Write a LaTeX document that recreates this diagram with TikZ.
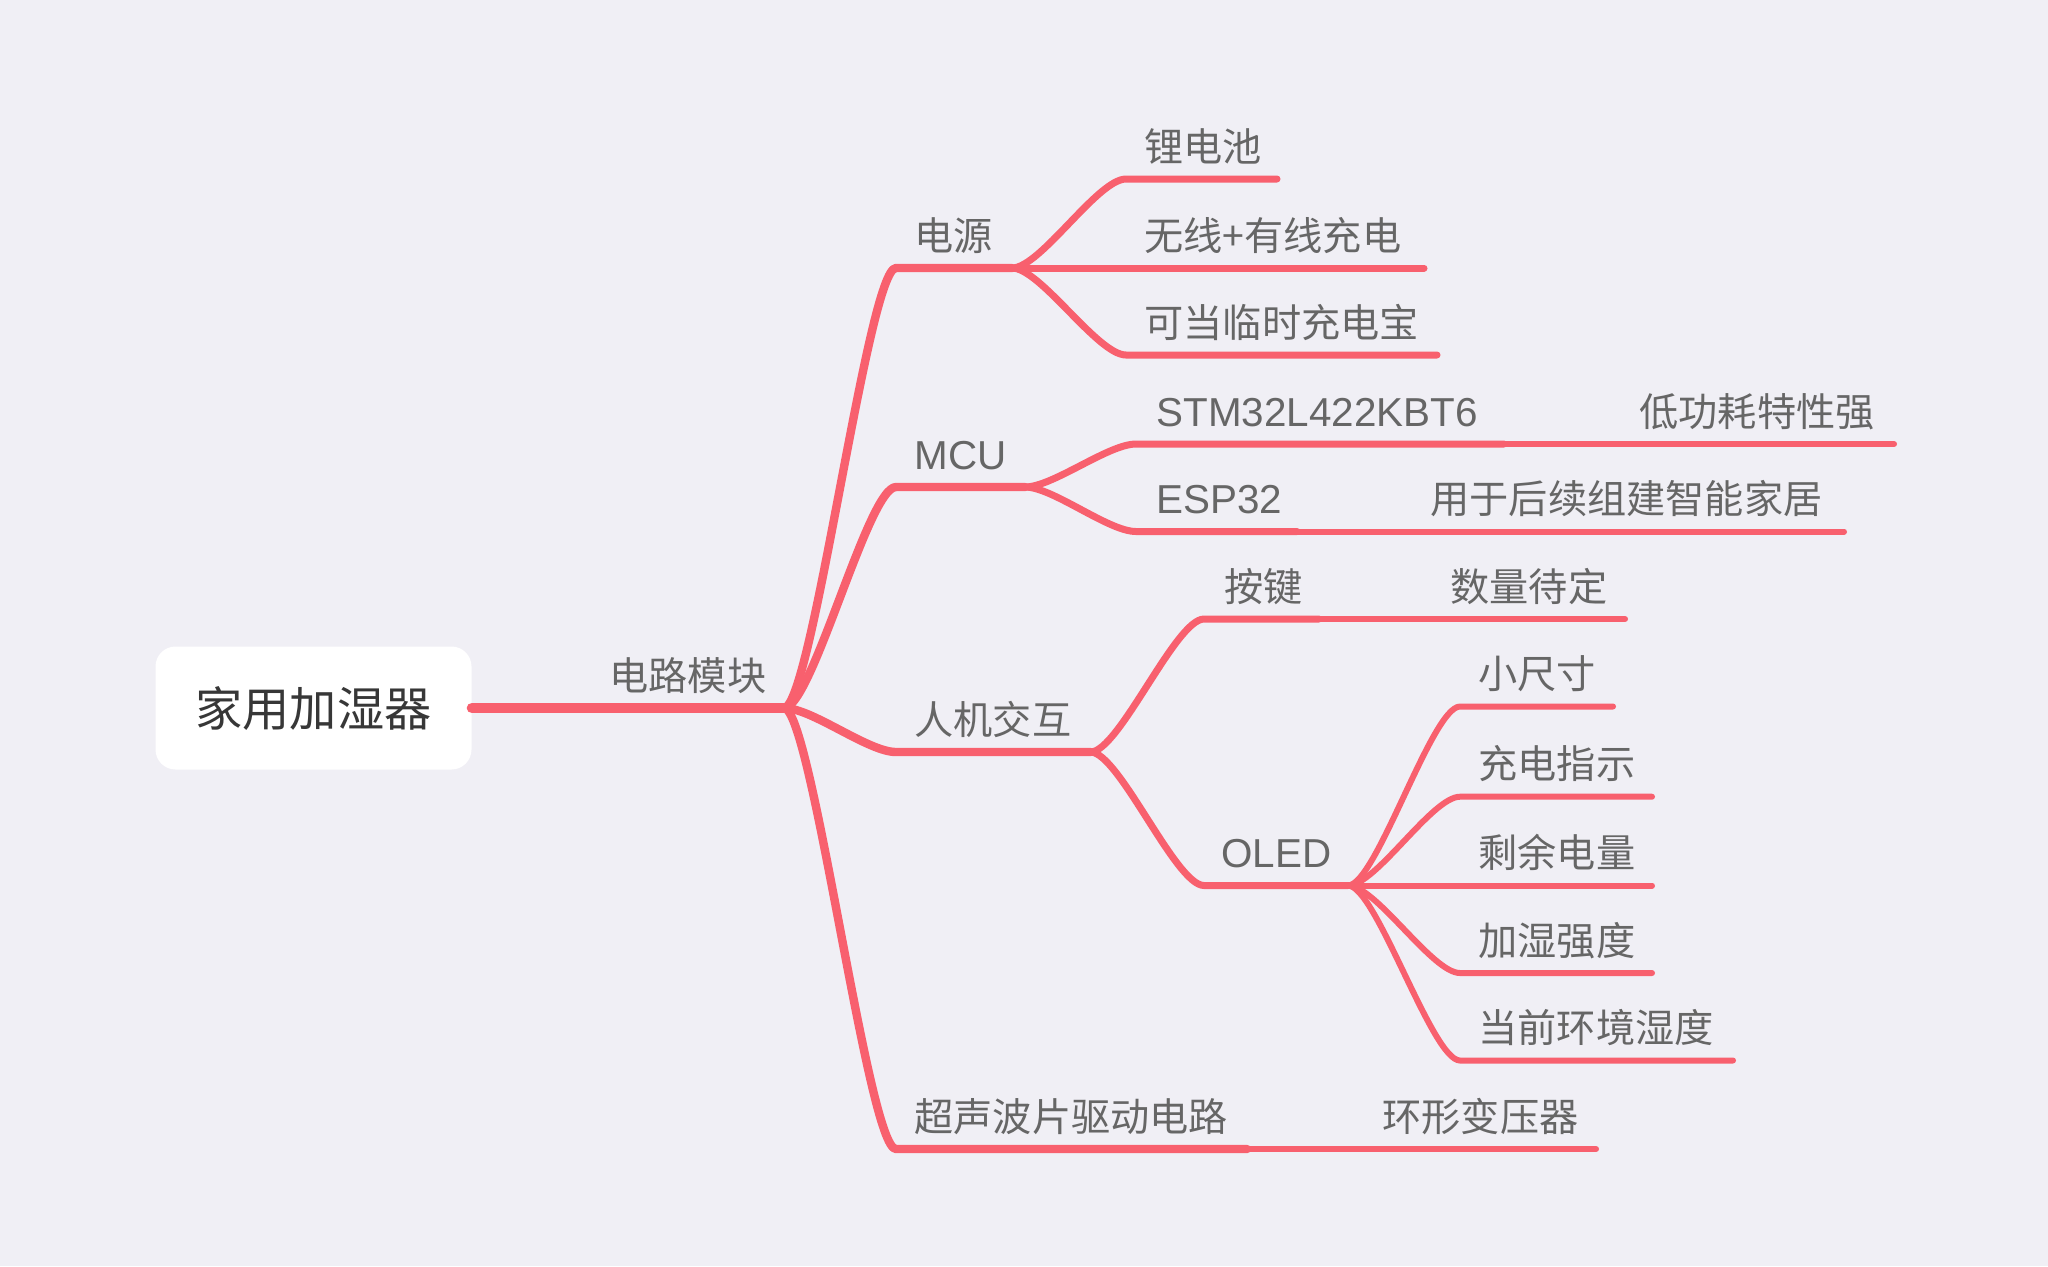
\documentclass[tikz,border=0pt]{standalone}
\usepackage{fontspec}
\setmainfont{Noto Sans CJK SC}
\newfontfamily\latinfont{Liberation Sans}
\usetikzlibrary{calc}
\definecolor{bgc}{RGB}{240,239,245}
\definecolor{linec}{RGB}{248,96,110}
\definecolor{txtc}{RGB}{102,102,102}
\definecolor{roottxt}{RGB}{55,55,55}
\begin{document}
\begin{tikzpicture}[x=0.5pt,y=-0.5pt,
  lab/.style={anchor=base west, inner sep=0pt, text=txtc, font=\fontsize{19.6}{20}\selectfont},
  latlab/.style={lab, font=\fontsize{20.2}{20}\latinfont},
  rootbox/.style={fill=white, rounded corners=10pt, minimum width=158pt, minimum height=61.5pt, inner sep=0pt, text=roottxt, font=\fontsize{23.6}{24}\selectfont},
  lw1/.style={draw=linec, line width=5.2pt, line cap=round, line join=round},
  lw2/.style={draw=linec, line width=4.2pt, line cap=round, line join=round},
  lw3/.style={draw=linec, line width=3.5pt, line cap=round, line join=round},
  lw4/.style={draw=linec, line width=3pt, line cap=round, line join=round},
  curvy/.style={to path={let \p1=(\tikztostart), \p2=(\tikztotarget) in
      .. controls ({\x1+0.25*(\x2-\x1)},{\y1}) and ({\x2-0.25*(\x2-\x1)},{\y2}) .. (\tikztotarget)}}
]
\fill[bgc] (0,0) rectangle (2048,1266);
\useasboundingbox (0,0) rectangle (2048,1266);

% root
\node[rootbox] (root) at (313.5,708) {家用加湿器};
\coordinate (hub) at (784,708);
\node[lab] (dlmk) at (609,690) {电路模块};
\draw[lw1] (root.east) -- (hub);

% level 2 coordinates
\coordinate (dy-s) at (896,268);   \coordinate (dy-e) at (1012,268);
\coordinate (mcu-s) at (896,487);  \coordinate (mcu-e) at (1025,487);
\coordinate (rj-s) at (896,752);   \coordinate (rj-e) at (1090.5,752);
\coordinate (cs-s) at (896,1149);  \coordinate (cs-e) at (1247,1149);

\draw[lw2] (hub) to[curvy] (dy-s) -- (dy-e);
\draw[lw2] (hub) to[curvy] (mcu-s) -- (mcu-e);
\draw[lw2] (hub) to[curvy] (rj-s) -- (rj-e);
\draw[lw2] (hub) to[curvy] (cs-s) -- (cs-e);

\node[lab] (dy) at (914,250) {电源};
\node[latlab] (mcu) at (914,469) {MCU};
\node[lab] (rj) at (914,734) {人机交互};
\node[lab] (cs) at (914,1131) {超声波片驱动电路};

% 电源 children
\coordinate (ldc-s) at (1126,179);  \coordinate (ldc-e) at (1277,179);
\coordinate (wx-s) at (1126,268);   \coordinate (wx-e) at (1424,268);
\coordinate (kd-s) at (1126,355);   \coordinate (kd-e) at (1437,355);
\draw[lw3] (dy-e) to[curvy] (ldc-s) -- (ldc-e);
\draw[lw3] (dy-e) -- (wx-s) -- (wx-e);
\draw[lw3] (dy-e) to[curvy] (kd-s) -- (kd-e);
\node[lab] (ldc) at (1144,161) {锂电池};
\node[lab] (wx) at (1144,250) {无线+有线充电};
\node[lab] (kd) at (1144,337) {可当临时充电宝};

% MCU children
\coordinate (stm-s) at (1136,444);  \coordinate (stm-e) at (1504,444);
\coordinate (dgh-e) at (1894,444);
\coordinate (esp-s) at (1136,531.5); \coordinate (esp-e) at (1297,531.5);
\coordinate (yy-e) at (1844,531.5);
\draw[lw3] (mcu-e) to[curvy] (stm-s) -- (stm-e);
\draw[lw3] (mcu-e) to[curvy] (esp-s) -- (esp-e);
\draw[lw4] (stm-e) -- (dgh-e);
\draw[lw4] (esp-e) -- (yy-e);
\node[latlab] (stm) at (1156,426) {STM32L422KBT6};
\node[lab] (dgh) at (1639,426) {低功耗特性强};
\node[latlab] (esp) at (1156,513.5) {ESP32};
\node[lab] (yy) at (1430,513.5) {用于后续组建智能家居};

% 人机交互 children
\coordinate (aj-s) at (1204,619);   \coordinate (aj-e) at (1319,619);
\coordinate (sl-e) at (1625,619);
\coordinate (oled-s) at (1204,885.5); \coordinate (oled-e) at (1348,885.5);
\draw[lw3] (rj-e) to[curvy] (aj-s) -- (aj-e);
\draw[lw3] (rj-e) to[curvy] (oled-s) -- (oled-e);
\draw[lw4] (aj-e) -- (sl-e);
\node[lab] (aj) at (1224,601) {按键};
\node[lab] (sl) at (1450,601) {数量待定};
\node[latlab] (oled) at (1221,867.5) {OLED};

% OLED children
\coordinate (xcc-s) at (1460,706.5);  \coordinate (xcc-e) at (1613,706.5);
\coordinate (cdzs-s) at (1460,796.7); \coordinate (cdzs-e) at (1652,796.7);
\coordinate (sydl-s) at (1460,885.5); \coordinate (sydl-e) at (1652,885.5);
\coordinate (jsqd-s) at (1460,973);   \coordinate (jsqd-e) at (1652,973);
\coordinate (dqhj-s) at (1460,1060.5); \coordinate (dqhj-e) at (1733,1060.5);
\draw[lw4] (oled-e) to[curvy] (xcc-s) -- (xcc-e);
\draw[lw4] (oled-e) to[curvy] (cdzs-s) -- (cdzs-e);
\draw[lw4] (oled-e) -- (sydl-s) -- (sydl-e);
\draw[lw4] (oled-e) to[curvy] (jsqd-s) -- (jsqd-e);
\draw[lw4] (oled-e) to[curvy] (dqhj-s) -- (dqhj-e);
\node[lab] (xcc) at (1478,688.5) {小尺寸};
\node[lab] (cdzs) at (1478,778.7) {充电指示};
\node[lab] (sydl) at (1478,867.5) {剩余电量};
\node[lab] (jsqd) at (1478,955) {加湿强度};
\node[lab] (dqhj) at (1478,1042.5) {当前环境湿度};

% 超声 child
\coordinate (hx-e) at (1596,1149);
\draw[lw4] (cs-e) -- (hx-e);
\node[lab] (hx) at (1382,1131) {环形变压器};
\end{tikzpicture}
\end{document}
